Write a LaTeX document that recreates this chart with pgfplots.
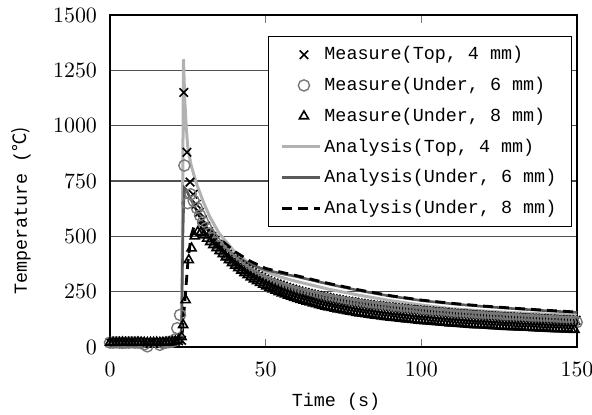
\documentclass[border=0pt]{standalone}
\usepackage{pgfplots}
\pgfplotsset{compat=1.18}
\usepackage{fontspec}
\setmainfont{Liberation Mono}
\newfontfamily\cjk{Noto Sans CJK SC}
\definecolor{lgray}{RGB}{178,178,178}
\definecolor{dgray}{RGB}{90,90,90}
\definecolor{mgray}{RGB}{120,120,120}
\definecolor{gridc}{RGB}{80,80,80}
\pgfplotsset{
  markleg/.style={legend image code/.code={\path (0pt,0pt) (19pt,0pt); \draw[##1] plot coordinates {(11pt,0pt)};}},
  lineleg/.style={legend image code/.code={\draw[##1] (0pt,0pt) -- (19pt,0pt);}},
}
\begin{document}
\begin{tikzpicture}
\begin{axis}[
  at={(0,0)}, anchor=south west,
  scale only axis, width=233.5pt, height=166pt,
  xmin=0, xmax=150, ymin=0, ymax=1500,
  xtick={0,50,100,150}, ytick={0,250,500,750,1000,1250,1500},
  /pgf/number format/1000 sep={},
  ymajorgrids, grid style={gridc, line width=0.6pt},
  axis line style={black, line width=0.9pt},
  ytick style={draw=none},
  xtick style={mgray, line width=0.5pt},
  tick align=inside, major tick length=4pt,
  tick label style={font=\fontsize{10.5}{12}\selectfont},
  yticklabel style={xshift=-3pt},
  xticklabel style={yshift=-4pt},
  xlabel={Time (s)},
  ylabel={Temperature (\cjk{℃})},
  label style={font=\fontsize{9.2}{11}\selectfont},
  xlabel style={at={(axis description cs:0.484,-0.166)}, anchor=center},
  ylabel style={at={(axis description cs:-0.19,0.41)}, anchor=center},
  legend style={at={(rel axis cs:0.338,0.937)}, anchor=north west,
    font=\fontsize{9.2}{11}\selectfont, draw=black, line width=0.6pt, fill=white,
    row sep=3.2pt, inner xsep=6pt, inner ysep=3pt, nodes={inner xsep=1.5pt}},
  legend cell align=left,
]
% Measure Top 4 mm
\addplot[only marks, mark=x, mark size=3pt, black, line width=0.8pt, markleg] coordinates {
(0,20)(1,21)(2,20)(3,19)(4,20)(5,21)(6,20)(7,20)(8,19)(9,20)(10,21)(11,20)(12,20)(13,19)(14,20)(15,21)(16,20)(17,21)(18,22)(19,22)(20,23)(21,25)(22,28)(23,30)
(23.7,1150)(24.7,880)(25.7,745)(26.7,690)(27.7,645)(28.7,608)(29.7,575)(30.7,546)(31.7,522)(32.7,500)(33.7,481)(34.7,464)(35.7,448)(36.7,433)(37.7,419)(38.7,406)(39.7,394)(40.7,383)(41.7,372)(42.7,362)(43.7,353)(44.7,344)(45.7,336)(46.7,328)(47.7,321)(48.7,314)(49.7,307)
(50.7,301)(51.7,295)(52.7,290)(53.7,285)(54.7,280)(55.7,275)(56.7,270)(57.7,266)(58.7,262)(59.7,258)(60.7,254)(61.7,250)(62.7,247)(63.7,243)(64.7,240)(65.7,237)(66.7,234)(67.7,231)(68.7,228)(69.7,225)
(70.7,222)(71.7,219)(72.7,217)(73.7,214)(74.7,212)(75.7,209)(76.7,207)(77.7,205)(78.7,203)(79.7,200)(80.7,198)(81.7,196)(82.7,194)(83.7,192)(84.7,190)(85.7,189)(86.7,187)(87.7,185)(88.7,183)(89.7,182)
(90.7,180)(91.7,178)(92.7,177)(93.7,175)(94.7,174)(95.7,172)(96.7,171)(97.7,169)(98.7,168)(99.7,167)(100.7,165)(101.7,164)(102.7,163)(103.7,161)(104.7,160)(105.7,159)(106.7,158)(107.7,157)(108.7,155)(109.7,154)
(110.7,153)(111.7,152)(112.7,151)(113.7,150)(114.7,149)(115.7,148)(116.7,147)(117.7,146)(118.7,145)(119.7,144)(120.7,143)(121.7,142)(122.7,141)(123.7,140)(124.7,139)(125.7,139)(126.7,138)(127.7,137)(128.7,136)(129.7,135)
(130.7,135)(131.7,134)(132.7,133)(133.7,132)(134.7,132)(135.7,131)(136.7,130)(137.7,129)(138.7,129)(139.7,128)(140.7,127)(141.7,127)(142.7,126)(143.7,125)(144.7,125)(145.7,124)(146.7,123)(147.7,123)(148.7,122)(149.7,121)
};
\addlegendentry{Measure(Top, 4 mm)}
% Measure Under 6 mm
\addplot[only marks, mark=o, mark size=2.8pt, mgray, line width=0.7pt, markleg] coordinates {
(0,20)(1,20)(2,21)(3,20)(4,19)(5,20)(6,20)(7,21)(8,20)(9,20)(10,19)(11,12)(12,3)(13,-5)(14,-6)(15,-2)(16,10)(17,18)(18,20)(19,22)(20,24)(21,35)
(21.6,85)(22.5,145)(23.9,820)(24.9,650)(25.9,690)(26.9,660)(27.9,628)(28.9,595)(29.9,565)(30.9,538)(31.9,513)(32.9,492)(33.9,472)(34.9,455)(35.9,439)(36.9,424)(37.9,410)(38.9,397)(39.9,385)
(40.9,373)(41.9,362)(42.9,352)(43.9,343)(44.9,334)(45.9,326)(46.9,318)(47.9,311)(48.9,304)(49.9,297)(50.9,291)(51.9,285)(52.9,280)(53.9,275)(54.9,270)(55.9,265)(56.9,260)(57.9,256)(58.9,252)(59.9,248)
(60.9,244)(61.9,240)(62.9,237)(63.9,233)(64.9,230)(65.9,227)(66.9,224)(67.9,221)(68.9,218)(69.9,215)(70.9,212)(71.9,209)(72.9,207)(73.9,204)(74.9,202)(75.9,199)(76.9,197)(77.9,195)(78.9,193)(79.9,190)
(80.9,188)(81.9,186)(82.9,184)(83.9,182)(84.9,180)(85.9,179)(86.9,177)(87.9,175)(88.9,173)(89.9,172)(90.9,170)(91.9,168)(92.9,167)(93.9,165)(94.9,164)(95.9,162)(96.9,161)(97.9,159)(98.9,158)(99.9,157)
(100.9,155)(101.9,154)(102.9,153)(103.9,151)(104.9,150)(105.9,149)(106.9,148)(107.9,147)(108.9,145)(109.9,144)(110.9,143)(111.9,142)(112.9,141)(113.9,140)(114.9,139)(115.9,138)(116.9,137)(117.9,136)(118.9,135)(119.9,134)
(120.9,133)(121.9,132)(122.9,131)(123.9,130)(124.9,130)(125.9,129)(126.9,128)(127.9,127)(128.9,126)(129.9,126)(130.9,125)(131.9,124)(132.9,123)(133.9,123)(134.9,122)(135.9,121)(136.9,120)(137.9,120)(138.9,119)(139.9,118)
(140.9,118)(141.9,117)(142.9,116)(143.9,116)(144.9,115)(145.9,114)(146.9,114)(147.9,113)(148.9,112)(149.9,112)
};
\addlegendentry{Measure(Under, 6 mm)}
% Measure Under 8 mm
\addplot[only marks, mark=triangle, mark size=2.6pt, black, line width=0.8pt, markleg] coordinates {
(0,20)(1,20)(2,19)(3,20)(4,21)(5,20)(6,20)(7,19)(8,20)(9,21)(10,20)(11,20)(12,19)(13,20)(14,20)(15,21)(16,20)(17,20)(18,21)(19,22)(20,23)(21,26)(22,32)(23,45)
(23.5,100)(24.3,212)(25.3,393)(26.2,446)(27.2,500)(28.2,520)(29.2,518)(30.2,505)(31.2,490)(32.2,475)(33.2,461)(34.2,447)(35.2,434)(36.2,420)(37.2,406)(38.2,393)(39.2,380)
(40.2,368)(41.2,357)(42.2,346)(43.2,335)(44.2,325)(45.2,315)(46.2,306)(47.2,298)(48.2,290)(49.2,282)(50.2,275)(51.2,268)(52.2,261)(53.2,255)(54.2,249)(55.2,243)(56.2,238)(57.2,233)(58.2,228)(59.2,223)
(60.2,218)(61.2,214)(62.2,210)(63.2,206)(64.2,202)(65.2,198)(66.2,194)(67.2,190)(68.2,187)(69.2,183)(70.2,180)(71.2,177)(72.2,174)(73.2,171)(74.2,168)(75.2,166)(76.2,163)(77.2,160)(78.2,158)(79.2,155)
(80.2,153)(81.2,151)(82.2,149)(83.2,147)(84.2,145)(85.2,143)(86.2,141)(87.2,139)(88.2,137)(89.2,136)(90.2,134)(91.2,132)(92.2,131)(93.2,129)(94.2,128)(95.2,126)(96.2,125)(97.2,123)(98.2,122)(99.2,120)
(100.2,119)(101.2,118)(102.2,117)(103.2,115)(104.2,114)(105.2,113)(106.2,112)(107.2,111)(108.2,110)(109.2,108)(110.2,107)(111.2,106)(112.2,105)(113.2,104)(114.2,103)(115.2,102)(116.2,101)(117.2,100)(118.2,99)(119.2,99)
(120.2,98)(121.2,97)(122.2,96)(123.2,95)(124.2,95)(125.2,94)(126.2,93)(127.2,92)(128.2,92)(129.2,91)(130.2,90)(131.2,89)(132.2,89)(133.2,88)(134.2,88)(135.2,87)(136.2,86)(137.2,86)(138.2,85)(139.2,85)
(140.2,84)(141.2,83)(142.2,83)(143.2,82)(144.2,82)(145.2,81)(146.2,80)(147.2,80)(148.2,79)(149.2,78)
};
\addlegendentry{Measure(Under, 8 mm)}
% Analysis Top 4 mm
\addplot[lgray, line width=1.5pt, no marks, lineleg] coordinates {
(0,20)(21,20)(22,25)(23,60)(23.3,600)(23.6,1300)(24,1120)(24.5,990)(25,900)(26,825)(27,775)(28,730)(30,655)(32,590)(35,515)(40,430)(45,375)(50,340)(55,315)(60,296)(70,262)(80,234)(90,210)(100,190)(110,173)(120,163)(130,155)(140,149)(150,144)
};
\addlegendentry{Analysis(Top, 4 mm)}
% Analysis Under 6 mm
\addplot[dgray, line width=1.3pt, no marks, lineleg] coordinates {
(0,20)(21,20)(22,25)(23,80)(23.4,500)(23.8,720)(24.5,710)(25.5,680)(27,640)(28,610)(30,560)(32,520)(35,470)(40,412)(45,374)(50,348)(55,332)(60,318)(70,285)(80,255)(90,230)(100,210)(110,195)(120,183)(130,173)(140,164)(150,156)
};
\addlegendentry{Analysis(Under, 6 mm)}
% Analysis Under 8 mm
\addplot[black, line width=1.4pt, dash pattern=on 5pt off 3pt, no marks, lineleg] coordinates {
(0,20)(22,20)(23,30)(24,200)(25,380)(26,500)(27,545)(28,560)(29,560)(30,552)(32,530)(35,492)(40,432)(45,388)(50,355)(55,338)(60,322)(70,288)(80,258)(90,232)(100,212)(110,197)(120,185)(130,175)(140,166)(150,158)
};
\addlegendentry{Analysis(Under, 8 mm)}
\end{axis}
\pgfresetboundingbox
\path[use as bounding box] (-55pt,-33.5pt) rectangle (241pt,173.5pt);
\end{tikzpicture}
\end{document}
